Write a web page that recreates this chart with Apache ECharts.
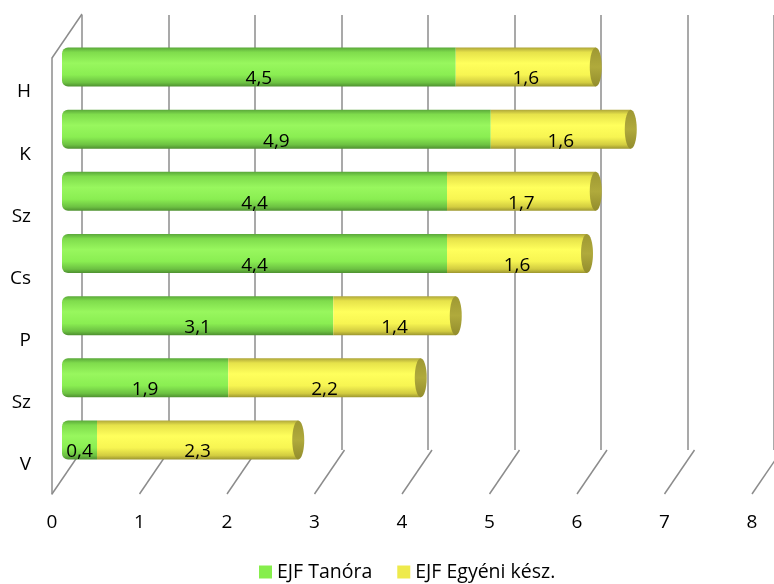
<!DOCTYPE html>
<html>
<head>
<meta charset="utf-8">
<script src="https://cdn.jsdelivr.net/npm/echarts@6/dist/echarts.min.js"></script>
<style>html,body{margin:0;padding:0;background:#fff;}#c{width:774px;height:584px;}</style>
</head>
<body>
<div id="c"></div>
<script>
var categories = ['H', 'K', 'Sz', 'Cs', 'P', 'Sz', 'V'];
var tanora = [4.5, 4.9, 4.4, 4.4, 3.1, 1.9, 0.4];
var egyeni = [1.6, 1.6, 1.7, 1.6, 1.4, 2.2, 2.3];
var xTicks = [0, 1, 2, 3, 4, 5, 6, 7, 8];
var seriesNames = ['EJF Tanóra', 'EJF Egyéni kész.'];

var FONT = 'Open Sans';
var FS = 19;
var totals = categories.map(function (c, i) { return [tanora[i] + egyeni[i], i]; });

function grad(stops) {
  return new echarts.graphic.LinearGradient(0, 0, 0, 1, stops.map(function (s) { return { offset: s[0], color: s[1] }; }));
}
var greenGrad = grad([[0, '#5aa83a'], [0.12, '#7fdc4c'], [0.4, '#98f75e'], [0.7, '#8aee52'], [0.9, '#6cc142'], [1, '#4e9030']]);
var yellowGrad = grad([[0, '#aea63a'], [0.12, '#e6e24a'], [0.4, '#ffff5c'], [0.7, '#f7f552'], [0.9, '#d2cc40'], [1, '#9c9630']]);

var chart = echarts.init(document.getElementById('c'));
chart.setOption({
  animation: false,
  grid: [
    { left: 62, right: 12, top: 36, bottom: 113 },
    { left: 82, right: -9, top: 15, bottom: 134 },
    { left: 52, right: 22, top: 58, bottom: 90 },
    { left: 52, right: 22, top: 61, bottom: 88 }
  ],
  xAxis: [
    { gridIndex: 0, type: 'value', min: 0, max: 8, interval: 1, show: false },
    { gridIndex: 1, type: 'value', min: 0, max: 8, interval: 1, axisLine: { show: false }, axisTick: { show: false }, axisLabel: { show: false },
      splitLine: { show: true, lineStyle: { color: '#8c8c8c', width: 1.5 } } },
    { gridIndex: 2, type: 'value', min: 0, max: 8, interval: 1, axisLine: { show: false }, axisTick: { show: false }, splitLine: { show: false },
      axisLabel: { margin: 19, fontSize: FS, fontFamily: FONT, color: '#000', formatter: function (v) { return String(v); } } },
    { gridIndex: 3, type: 'value', min: 0, max: 8, show: false }
  ],
  yAxis: [
    { gridIndex: 0, type: 'category', data: categories, inverse: true, show: false },
    { gridIndex: 1, type: 'value', min: 0, max: 1, show: false },
    { gridIndex: 2, type: 'value', min: 0, max: 1, axisLine: { show: true, lineStyle: { color: '#8c8c8c', width: 1.5 } },
      axisTick: { show: false }, axisLabel: { show: false }, splitLine: { show: false } },
    { gridIndex: 3, type: 'category', data: categories, inverse: true, axisLine: { show: false }, axisTick: { show: false },
      axisLabel: { margin: 21, fontSize: FS, fontFamily: FONT, color: '#000' } }
  ],
  legend: {
    top: 562, left: 259, icon: 'rect', itemWidth: 13, itemHeight: 13, itemGap: 25, padding: 0,
    textStyle: { fontSize: 19.5, fontFamily: FONT, color: '#000' },
    data: [
      { name: seriesNames[0], itemStyle: { color: '#86ee4c' } },
      { name: seriesNames[1], itemStyle: { color: '#eeea4c' } }
    ]
  },
  series: [
    {
      type: 'custom', xAxisIndex: 2, yAxisIndex: 2, silent: true, z: 1,
      data: xTicks.map(function (t) { return [t, 0]; }).concat([[0, 1]]),
      renderItem: function (params, api) {
        var p = api.coord([api.value(0), api.value(1)]);
        return { type: 'line', shape: { x1: p[0], y1: p[1], x2: p[0] + 30, y2: p[1] - 44 },
          style: { stroke: '#8c8c8c', lineWidth: 1.5 } };
      }
    },
    {
      name: seriesNames[0], type: 'bar', stack: 'a', xAxisIndex: 0, yAxisIndex: 0, barWidth: 39, z: 3,
      data: tanora,
      itemStyle: { color: greenGrad, borderRadius: [6, 0, 0, 6] },
      label: { show: true, position: 'inside', offset: [0, 12], fontSize: FS, fontFamily: FONT, color: '#000',
        formatter: function (p) { return String(p.value).replace('.', ','); } }
    },
    {
      name: seriesNames[1], type: 'bar', stack: 'a', xAxisIndex: 0, yAxisIndex: 0, barWidth: 39, z: 3,
      data: egyeni,
      itemStyle: { color: yellowGrad },
      label: { show: true, position: 'inside', offset: [0, 12], fontSize: FS, fontFamily: FONT, color: '#000',
        formatter: function (p) { return String(p.value).replace('.', ','); } }
    },
    {
      type: 'custom', xAxisIndex: 0, yAxisIndex: 0, silent: true, z: 4,
      data: totals,
      renderItem: function (params, api) {
        var p = api.coord([api.value(0), api.value(1)]);
        return { type: 'ellipse', shape: { cx: p[0], cy: p[1], rx: 6, ry: 19.5 },
          style: { fill: grad([[0, '#9e9832'], [0.5, '#b0aa3c'], [1, '#928c2c']]) } };
      }
    }
  ]
});
</script>
</body>
</html>
